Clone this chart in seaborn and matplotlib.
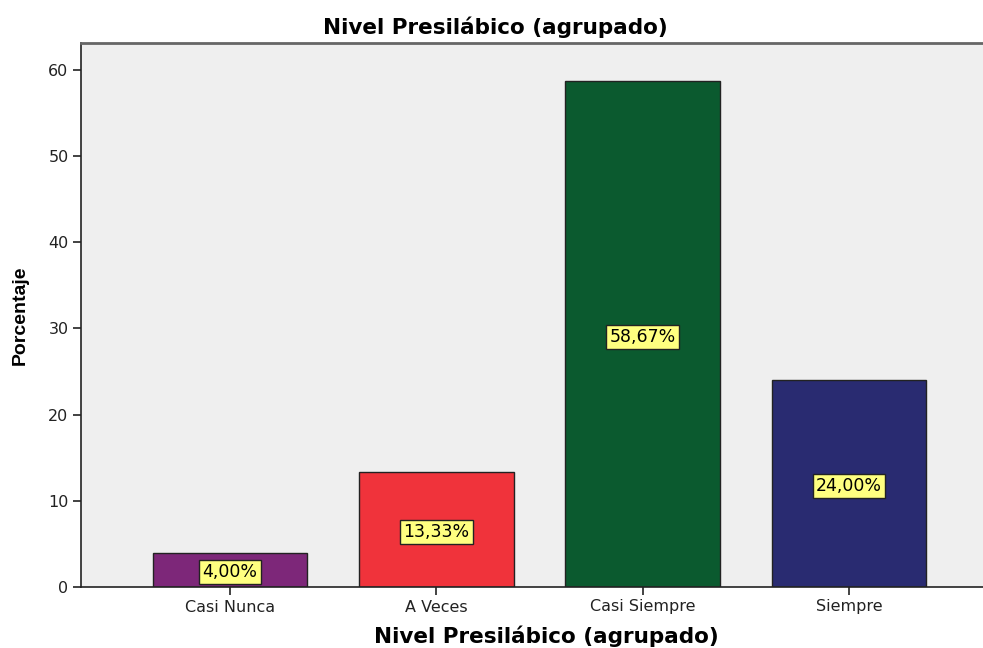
import matplotlib.pyplot as plt
import seaborn as sns
import pandas as pd

categorias = ["Casi Nunca", "A Veces", "Casi Siempre", "Siempre"]
porcentajes = [4.00, 13.33, 58.67, 24.00]
etiquetas = ["4,00%", "13,33%", "58,67%", "24,00%"]
colores = ["#7D2779", "#F0333B", "#0B5A2F", "#292B71"]


def plot():
    sns.set_style("white")
    plt.rcParams['font.family'] = ['DejaVu Sans']
    plt.rcParams['text.color'] = 'black'

    df = pd.DataFrame({"cat": categorias, "pct": porcentajes})

    fig = plt.figure(figsize=(9.83, 6.48), dpi=100)
    ax = fig.add_axes([81 / 983, 1 - 587 / 648, 1 - 81 / 983 + 0.002, (587 - 43) / 648])
    ax.set_facecolor("#EFEFEF")

    sns.barplot(data=df, x="cat", y="pct", hue="cat", palette=colores,
                width=0.75, edgecolor="#222222", linewidth=1.0, saturation=1,
                legend=False, ax=ax)

    for i, (v, t) in enumerate(zip(porcentajes, etiquetas)):
        ax.text(i, v / 2 - 0.3, t, ha="center", va="center", fontsize=12.5, color="black",
                bbox=dict(boxstyle="square,pad=0.18", fc="#FFFF80", ec="#222222", lw=1.0))

    ax.set_xlim(-0.723, 3.66)
    ax.set_ylim(0, 63.1)
    ax.set_yticks([0, 10, 20, 30, 40, 50, 60])

    fig.text(495 / 983, 1 - 27 / 648, "Nivel Presilábico (agrupado)", fontsize=15.5,
             fontweight="bold", ha="center", va="center", color="black")
    fig.text(546 / 983, 1 - 636 / 648, "Nivel Presilábico (agrupado)", fontsize=15.5,
             fontweight="bold", ha="center", va="center", color="black")
    fig.text(20 / 983, 1 - 315 / 648, "Porcentaje", fontsize=14, fontweight="bold",
             rotation=90, ha="center", va="center", color="black",
             family=['Liberation Sans Narrow', 'Liberation Sans'])
    ax.set_xlabel("")
    ax.set_ylabel("")

    ax.tick_params(axis="both", which="major", direction="out", length=6, width=1.2,
                   color="#222222", labelsize=11.5, labelcolor="#222222", left=True, bottom=True, pad=3)

    for s in ["left", "bottom"]:
        ax.spines[s].set_color("#222222")
        ax.spines[s].set_linewidth(1.2)
    ax.spines["top"].set_color("#666666")
    ax.spines["top"].set_linewidth(2)
    ax.spines["right"].set_visible(False)

    plt.savefig("out.png", dpi=100)
    plt.clf()


plot()
